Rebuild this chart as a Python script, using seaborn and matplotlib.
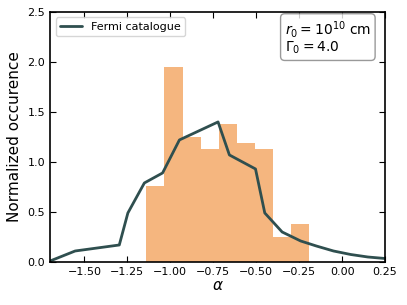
import numpy as np
import pandas as pd
import seaborn as sns
import matplotlib
matplotlib.use('Agg')
import matplotlib.pyplot as plt

bin_edges = [-1.14, -1.0344, -0.9289, -0.8233, -0.7178, -0.6122, -0.5067, -0.4011, -0.2956, -0.19]
bin_heights = [0.76, 1.95, 1.25, 1.13, 1.38, 1.19, 1.13, 0.25, 0.38]

# model curve
line_alpha = [-1.70, -1.554, -1.297, -1.247, -1.151, -1.045, -0.947, -0.722, -0.656,
              -0.504, -0.45, -0.349, -0.241, -0.15, -0.05, 0.05, 0.15, 0.25]
line_occ = [0.01, 0.11, 0.17, 0.49, 0.79, 0.89, 1.22, 1.40, 1.07,
            0.93, 0.49, 0.30, 0.21, 0.16, 0.11, 0.075, 0.05, 0.035]

centers = [(a + b) / 2 for a, b in zip(bin_edges[:-1], bin_edges[1:])]
hist_df = pd.DataFrame({'alpha': centers, 'h': bin_heights})
line_df = pd.DataFrame({'alpha': line_alpha, 'occ': line_occ})

sns.set_style('ticks')
plt.rcParams.update({'text.color': 'black', 'axes.labelcolor': 'black',
                     'xtick.color': 'black', 'ytick.color': 'black',
                     'axes.edgecolor': 'black'})
fig = plt.figure(figsize=(4.07, 3.05), dpi=100)
ax = fig.add_axes([0.123, 0.141, 0.823, 0.82])

sns.histplot(data=hist_df, x='alpha', weights='h', bins=bin_edges, stat='count',
             color='#f5b67f', alpha=1.0, linewidth=0, ax=ax)
sns.lineplot(data=line_df, x='alpha', y='occ', color='#2f4f4f', lw=2,
             label='Fermi catalogue', ax=ax)

ax.set_xlim(-1.7, 0.25)
ax.set_ylim(0, 2.5)
ax.set_xticks([-1.5, -1.25, -1.0, -0.75, -0.5, -0.25, 0.0, 0.25])
ax.set_yticks([0.0, 0.5, 1.0, 1.5, 2.0, 2.5])
ax.tick_params(direction='in', top=True, right=True, labelsize=8, length=4)
ax.set_xlabel(r'$\alpha$', fontsize=11, labelpad=1)
ax.set_ylabel('Normalized occurence', fontsize=11)
for s in ax.spines.values():
    s.set_linewidth(1.2)

ax.legend(loc='upper left', fontsize=8, frameon=True, fancybox=True)
ax.text(0.958, 0.972, '$r_0 = 10^{10}$ cm\n$\\Gamma_0 = 4.0$', transform=ax.transAxes,
        ha='right', va='top', multialignment='left', fontsize=10, linespacing=1.0,
        bbox=dict(boxstyle='round', facecolor='white', edgecolor='gray', alpha=0.8))

fig.savefig('out.png', dpi=100)
